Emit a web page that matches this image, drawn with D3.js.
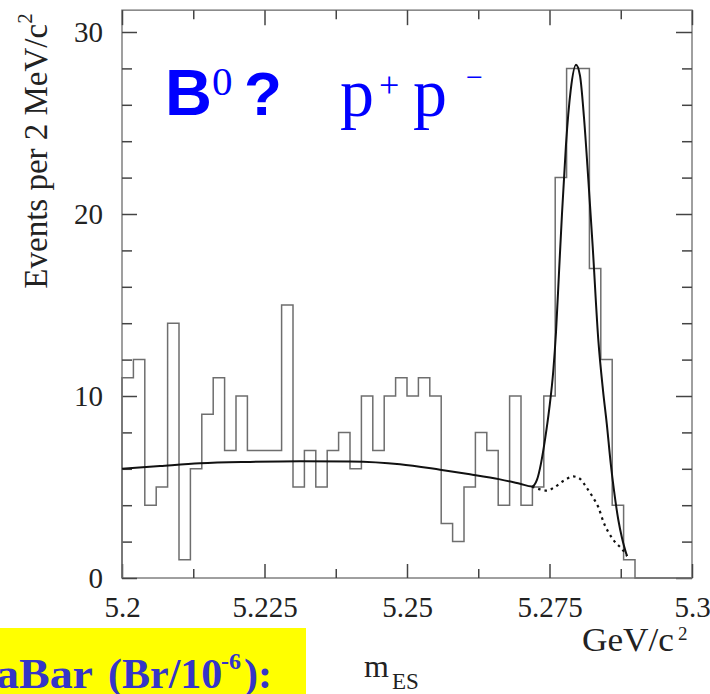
<!DOCTYPE html>
<html>
<head>
<meta charset="utf-8">
<script src="https://cdn.jsdelivr.net/npm/d3@7"></script>
<style>
  html, body { margin: 0; padding: 0; background: #fff; }
  svg { display: block; }
</style>
</head>
<body>
<svg id="chart" width="710" height="694"></svg>
<script>
// m_ES distribution, 2 MeV/c^2 bins from 5.200 to 5.300 GeV/c^2
const binLow = 5.200;
const binWidth = 0.002;
const counts = [11, 12, 4, 5, 14, 1, 6, 9, 11, 7,
                10, 7, 7, 7, 15, 5, 7, 5, 7, 8,
                6, 10, 7, 10, 11, 10, 11, 10, 3, 2,
                5, 8, 7, 4, 10, 4, 5, 10, 22, 28,
                28, 17, 12, 4, 1, 0, 0, 0, 0, 0];

// total fit (signal + background), sampled along m_ES
const fitMass  = [5.2000, 5.20667, 5.21368, 5.22246, 5.23123, 5.2400, 5.24877, 5.25579,
                  5.26105, 5.26632, 5.26982, 5.27193, 5.27281, 5.27351, 5.27421, 5.27496,
                  5.27567, 5.27614, 5.27667, 5.27719, 5.27789, 5.27872, 5.27965, 5.28035,
                  5.28105, 5.28181, 5.28258, 5.28356, 5.28439, 5.28504, 5.28574, 5.28632,
                  5.28707, 5.28772, 5.28860];
const fitValue = [6.0, 6.15, 6.3, 6.38, 6.42, 6.4, 6.25, 5.95,
                  5.7, 5.42, 5.18, 5.03, 5.4, 6.3, 7.6, 9.3,
                  11.4, 13.5, 16.8, 20.0, 23.8, 26.8, 28.2, 27.6,
                  25.3, 21.9, 18.2, 13.1, 10.3, 8.5, 6.3, 4.8,
                  3.2, 2.2, 1.2];

// background component near the signal region
const bkgMass  = [5.27193, 5.27333, 5.27451, 5.27567, 5.27742, 5.27918, 5.28035,
                  5.28153, 5.28268, 5.28356, 5.28444, 5.28619, 5.28795, 5.28860];
const bkgValue = [5.02, 4.87, 4.8, 4.95, 5.33, 5.58, 5.45,
                  4.95, 4.4, 3.9, 3.1, 2.1, 1.5, 1.2];

const xMajor = [5.2, 5.225, 5.25, 5.275, 5.3];
const xMajorLabels = ["5.2", "5.225", "5.25", "5.275", "5.3"];
const xMinor = [5.2125, 5.2375, 5.2625, 5.2875];
const yMajor = [0, 10, 20, 30];
const yMinor = [2, 4, 6, 8, 12, 14, 16, 18, 22, 24, 26, 28];
const yTop = 31.2;

const svg = d3.select("#chart");
const serif = "'Liberation Serif', 'Times New Roman', serif";
const sans = "'Liberation Sans', Arial, sans-serif";

const x = d3.scaleLinear().domain([5.2, 5.3]).range([122, 692]);
const y = d3.scaleLinear().domain([0, 30]).range([578, 32]);

// frame
svg.append("rect")
  .attr("x", x(5.2)).attr("y", y(yTop))
  .attr("width", x(5.3) - x(5.2)).attr("height", y(0) - y(yTop))
  .attr("fill", "none").attr("stroke", "#808080").attr("stroke-width", 1.5);

// axes: ticks point inward on all four sides
function styleAxis(g) {
  g.select(".domain").remove();
  g.selectAll(".tick line").attr("stroke", "#444").attr("stroke-width", 1.5);
  g.selectAll("text").attr("font-family", serif).attr("font-size", 29).attr("fill", "#222");
}
const xLab = new Map(xMajor.map((d, i) => [d, xMajorLabels[i]]));
svg.append("g").attr("transform", `translate(0,${y(0)})`)
  .call(d3.axisBottom(x).tickValues(xMajor).tickSize(-14).tickPadding(18).tickFormat(d => xLab.get(d)))
  .call(styleAxis);
svg.append("g").attr("transform", `translate(0,${y(0)})`)
  .call(d3.axisBottom(x).tickValues(xMinor).tickSize(-9).tickFormat(""))
  .call(styleAxis);
svg.append("g").attr("transform", `translate(0,${y(yTop)})`)
  .call(d3.axisTop(x).tickValues(xMajor).tickSize(-15).tickFormat(""))
  .call(styleAxis);
svg.append("g").attr("transform", `translate(0,${y(yTop)})`)
  .call(d3.axisTop(x).tickValues(xMinor).tickSize(-9).tickFormat(""))
  .call(styleAxis);
svg.append("g").attr("transform", `translate(${x(5.2)},0)`)
  .call(d3.axisLeft(y).tickValues(yMajor).tickSize(-15).tickPadding(19).tickFormat(d3.format("d")))
  .call(styleAxis);
svg.append("g").attr("transform", `translate(${x(5.2)},0)`)
  .call(d3.axisLeft(y).tickValues(yMinor).tickSize(-10).tickFormat(""))
  .call(styleAxis);
svg.append("g").attr("transform", `translate(${x(5.3)},0)`)
  .call(d3.axisRight(y).tickValues(yMajor).tickSize(-16).tickFormat(""))
  .call(styleAxis);
svg.append("g").attr("transform", `translate(${x(5.3)},0)`)
  .call(d3.axisRight(y).tickValues(yMinor).tickSize(-10).tickFormat(""))
  .call(styleAxis);

// histogram outline
const steps = [[binLow, 0]]
  .concat(counts.map((c, i) => [binLow + i * binWidth, c]))
  .concat([[binLow + counts.length * binWidth, counts[counts.length - 1]]]);
svg.append("path")
  .attr("d", d3.line().x(d => x(d[0])).y(d => y(d[1])).curve(d3.curveStepAfter)(steps))
  .attr("fill", "none").attr("stroke", "#6e6e6e").attr("stroke-width", 1.5);

// background component (dotted)
svg.append("path")
  .attr("d", d3.line().x((d, i) => x(bkgMass[i])).y(d => y(d)).curve(d3.curveMonotoneX)(bkgValue))
  .attr("fill", "none").attr("stroke", "#111").attr("stroke-width", 2.2)
  .attr("stroke-dasharray", "2.5,4");

// total fit
svg.append("path")
  .attr("d", d3.line().x((d, i) => x(fitMass[i])).y(d => y(d)).curve(d3.curveMonotoneX)(fitValue))
  .attr("fill", "none").attr("stroke", "#111").attr("stroke-width", 2);

// y axis title
const yt = svg.append("text")
  .attr("transform", "translate(47,151) rotate(-90)")
  .attr("text-anchor", "middle")
  .attr("font-family", serif).attr("font-size", 33).attr("fill", "#222");
yt.append("tspan").text("Events per 2 MeV/c");
yt.append("tspan").attr("font-size", 21).attr("dy", -15).text("2");

// decay label
const blue = "#0000ff";
svg.append("text").attr("x", 165).attr("y", 115).attr("font-family", sans).attr("font-weight", "bold")
  .attr("font-size", 65).attr("fill", blue).text("B");
svg.append("text").attr("x", 212).attr("y", 95).attr("font-family", serif)
  .attr("font-size", 41).attr("fill", blue).text("0");
svg.append("text").attr("x", 244).attr("y", 115).attr("font-family", sans).attr("font-weight", "bold")
  .attr("font-size", 62).attr("fill", blue).text("?");
svg.append("text").attr("x", 340).attr("y", 116).attr("font-family", serif)
  .attr("font-size", 68).attr("fill", blue).text("p");
svg.append("text").attr("x", 379).attr("y", 97).attr("font-family", serif)
  .attr("font-size", 36).attr("fill", blue).text("+");
svg.append("text").attr("x", 413).attr("y", 116).attr("font-family", serif)
  .attr("font-size", 68).attr("fill", blue).text("p");
svg.append("text").attr("x", 466).attr("y", 87).attr("font-family", serif)
  .attr("font-size", 30).attr("fill", blue).text("\u2212");

// x axis unit and variable
const unit = svg.append("text").attr("x", 582).attr("y", 651)
  .attr("font-family", serif).attr("font-size", 33).attr("fill", "#222");
unit.append("tspan").attr("textLength", 92).attr("lengthAdjust", "spacingAndGlyphs").text("GeV/c");
unit.append("tspan").attr("x", 678).attr("dy", -11).attr("font-size", 19).text("2");
svg.append("text").attr("x", 364).attr("y", 677).attr("font-family", serif)
  .attr("font-size", 32).attr("fill", "#222").text("m");
svg.append("text").attr("x", 392).attr("y", 689).attr("font-family", serif)
  .attr("font-size", 23).attr("fill", "#222").text("ES");

// BaBar result panel
svg.append("rect").attr("x", 0).attr("y", 628).attr("width", 306).attr("height", 66).attr("fill", "#ffff00");
const bb = svg.append("text").attr("y", 688).attr("font-family", serif).attr("font-weight", "bold")
  .attr("font-size", 42).attr("fill", "#3535c8");
bb.append("tspan").attr("x", -4).attr("textLength", 97).attr("lengthAdjust", "spacingAndGlyphs").text("aBar");
bb.append("tspan").attr("x", 108).text("(Br/10");
bb.append("tspan").attr("x", 221).attr("y", 669).attr("font-size", 24).text("-6");
bb.append("tspan").attr("x", 244).attr("y", 688).text("):");
</script>
</body>
</html>
